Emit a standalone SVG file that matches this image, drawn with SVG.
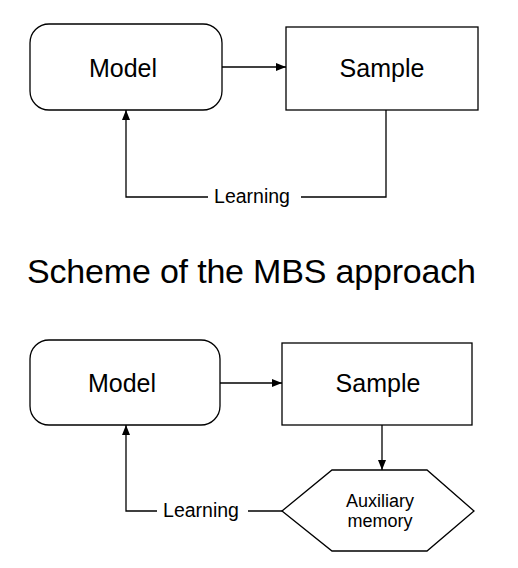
<svg xmlns="http://www.w3.org/2000/svg" width="518" height="568" viewBox="0 0 518 568">
<style>
.box{fill:#fff;stroke:#000;stroke-width:1.3}
.ln{fill:none;stroke:#000;stroke-width:1.3}
.big{font-family:"Liberation Sans",Arial,sans-serif;font-size:25px;fill:#000;text-anchor:middle}
.lbl{font-family:"Liberation Sans",Arial,sans-serif;font-size:19.5px;fill:#000;text-anchor:middle}
.mem{font-family:"Liberation Sans",Arial,sans-serif;font-size:18px;fill:#000;text-anchor:middle}
.title{font-family:"Liberation Sans",Arial,sans-serif;font-size:34px;fill:#000}
</style>
<defs>
<marker id="ah" viewBox="0 0 10 8" refX="10" refY="4" markerWidth="10" markerHeight="8" markerUnits="userSpaceOnUse" orient="auto">
<path d="M0,0 L10,4 L0,8 Z" fill="#000"/>
</marker>
</defs>
<rect width="518" height="568" fill="#fff"/>
<g id="model1"><rect class="box" x="30" y="24" width="192" height="86" rx="19"/><text class="big" x="123" y="77">Model</text></g>
<g id="sample1"><rect class="box" x="286" y="27" width="192" height="83"/><text class="big" x="382" y="77">Sample</text></g>
<g id="title"><text class="title" x="27" y="283" textLength="449">Scheme of the MBS approach</text></g>
<g id="model2"><rect class="box" x="30" y="340" width="190" height="85" rx="19"/><text class="big" x="122" y="392">Model</text></g>
<g id="sample2"><rect class="box" x="282" y="343" width="190" height="82"/><text class="big" x="378" y="392">Sample</text></g>
<g id="memory"><polygon class="box" points="332,470 427,470 474,511 427,551 332,551 282,511"/><text class="mem" x="380" y="507">Auxiliary</text><text class="mem" x="380" y="527">memory</text></g>
<g id="connectors">
<line class="ln" x1="222" y1="67" x2="286" y2="67" marker-end="url(#ah)"/>
<polyline class="ln" points="386,110 386,197 301,197"/>
<polyline class="ln" points="208,197 126,197 126,110" marker-end="url(#ah)"/>
<text class="lbl" x="252" y="203">Learning</text>
<line class="ln" x1="220" y1="383" x2="282" y2="383" marker-end="url(#ah)"/>
<line class="ln" x1="382" y1="425" x2="382" y2="470" marker-end="url(#ah)"/>
<line class="ln" x1="282" y1="511" x2="248" y2="511"/>
<polyline class="ln" points="157,511 126,511 126,425" marker-end="url(#ah)"/>
<text class="lbl" x="201" y="517">Learning</text>
</g>
</svg>
